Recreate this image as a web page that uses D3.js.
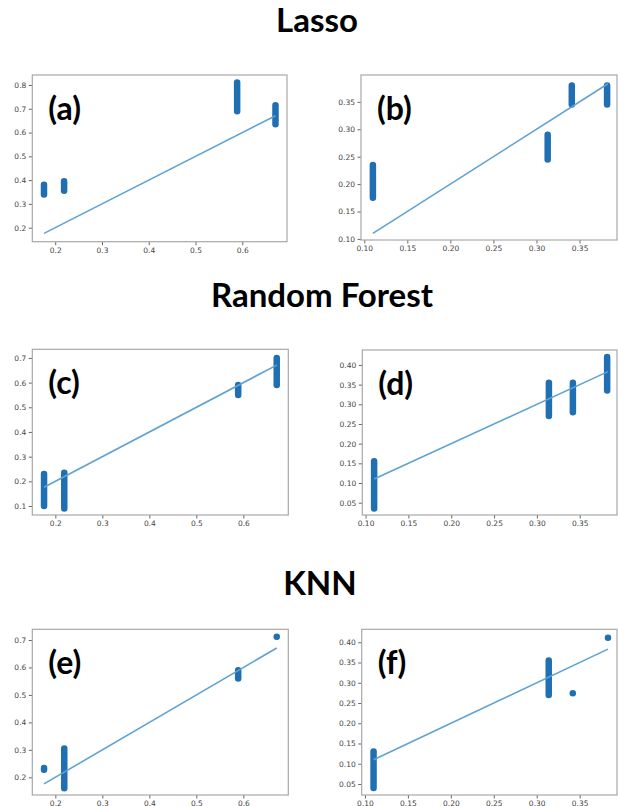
<!DOCTYPE html>
<html>
<head>
<meta charset="utf-8">
<script src="https://cdn.jsdelivr.net/npm/d3@7"></script>
<style>
  body { margin: 0; background: #fff; }
  svg { display: block; }
  .tick text { font-family: "DejaVu Sans", sans-serif; font-size: 7.5px; fill: #444; }
  .tick line { stroke: #666; }
  .title { font-family: Lato, "Open Sans", sans-serif; font-weight: 700; font-size: 33px; fill: #000; }
  .plabel { font-family: Lato, "Open Sans", sans-serif; font-weight: 700; font-size: 32px; fill: #000; }
</style>
</head>
<body>
<div id="chart"></div>
<script>
// section titles
var titles = ["Lasso", "Random Forest", "KNN"];
var panelNames = ["(a)", "(b)", "(c)", "(d)", "(e)", "(f)"];

// each cluster: [x, lowest y, highest y]  (many overlapping dots at the same x)
var lassoA = [[0.176, 0.34, 0.38], [0.219, 0.355, 0.395], [0.589, 0.69, 0.81], [0.671, 0.635, 0.715]];
var lassoB = [[0.110, 0.175, 0.235], [0.313, 0.245, 0.29], [0.341, 0.345, 0.38], [0.382, 0.345, 0.38]];
var forestC = [[0.176, 0.10, 0.23], [0.219, 0.09, 0.235], [0.589, 0.55, 0.59], [0.671, 0.59, 0.70]];
var forestD = [[0.110, 0.035, 0.155], [0.314, 0.27, 0.355], [0.342, 0.28, 0.355], [0.382, 0.335, 0.42]];
var knnE = [[0.176, 0.228, 0.234], [0.219, 0.16, 0.305], [0.589, 0.56, 0.59], [0.671, 0.712, 0.712]];
var knnF = [[0.110, 0.04, 0.13], [0.314, 0.27, 0.355], [0.342, 0.274, 0.274], [0.383, 0.411, 0.411]];

// y = x reference line ends
var lineLeft = [0.176, 0.671];
var lineRight = [0.110, 0.383];

// axis ranges and ticks
var xDomLeft = [0.151, 0.6956];
var xDomRight = [0.0962, 0.3935];
var xTicksLeft = [0.2, 0.3, 0.4, 0.5, 0.6];
var xTicksRight = [0.10, 0.15, 0.20, 0.25, 0.30, 0.35];
var yDoms = [[0.141, 0.842], [0.098, 0.399], [0.0635, 0.735], [0.0187, 0.438], [0.1356, 0.739], [0.0228, 0.432]];
var yTicks = [
  [0.2, 0.3, 0.4, 0.5, 0.6, 0.7, 0.8],
  [0.10, 0.15, 0.20, 0.25, 0.30, 0.35],
  [0.1, 0.2, 0.3, 0.4, 0.5, 0.6, 0.7],
  [0.05, 0.10, 0.15, 0.20, 0.25, 0.30, 0.35, 0.40],
  [0.2, 0.3, 0.4, 0.5, 0.6, 0.7],
  [0.05, 0.10, 0.15, 0.20, 0.25, 0.30, 0.35, 0.40]
];

var allData = [lassoA, lassoB, forestC, forestD, knnE, knnF];

var width = 618, height = 806;
var svg = d3.select("#chart").append("svg")
  .attr("width", width)
  .attr("height", height);

// frames [left, top, right, bottom]
var frames = [
  [32.3, 75, 287, 241.7],
  [361, 75, 617, 240],
  [32.3, 349.3, 288.3, 515],
  [362.3, 350, 617, 515],
  [32.3, 629.3, 288.3, 795],
  [361.7, 629.3, 617, 795]
];
var titleSpots = [[317, 32], [322, 307], [320, 595]];

titles.forEach(function (t, i) {
  svg.append("text").attr("class", "title")
    .attr("x", titleSpots[i][0]).attr("y", titleSpots[i][1])
    .attr("text-anchor", "middle")
    .text(t);
});

allData.forEach(function (clusters, i) {
  var f = frames[i];
  var isLeft = i % 2 == 0;
  var x = d3.scaleLinear().domain(isLeft ? xDomLeft : xDomRight).range([f[0], f[2]]);
  var y = d3.scaleLinear().domain(yDoms[i]).range([f[3], f[1]]);
  var g = svg.append("g");

  var xAxis = d3.axisBottom(x)
    .tickValues(isLeft ? xTicksLeft : xTicksRight)
    .tickFormat(d3.format(isLeft ? ".1f" : ".2f"))
    .tickSize(3.5).tickPadding(2.5);
  var yAxis = d3.axisLeft(y)
    .tickValues(yTicks[i])
    .tickFormat(d3.format(isLeft ? ".1f" : ".2f"))
    .tickSize(3.5).tickPadding(2.5);

  g.append("g").attr("transform", "translate(0," + f[3] + ")").call(xAxis)
    .call(function (s) { s.select(".domain").remove(); });
  g.append("g").attr("transform", "translate(" + f[0] + ",0)").call(yAxis)
    .call(function (s) { s.select(".domain").remove(); });

  // clusters of points
  g.selectAll("line.pts").data(clusters).enter().append("line")
    .attr("class", "pts")
    .attr("x1", d => x(d[0])).attr("x2", d => x(d[0]))
    .attr("y1", d => y(d[1])).attr("y2", d => y(d[2]))
    .attr("stroke", "#1f6fb2")
    .attr("stroke-width", 6.5)
    .attr("stroke-linecap", "round");

  // reference line
  var ends = isLeft ? lineLeft : lineRight;
  g.append("line")
    .attr("x1", x(ends[0])).attr("y1", y(ends[0]))
    .attr("x2", x(ends[1])).attr("y2", y(ends[1]))
    .attr("stroke", "#5fa2d4")
    .attr("stroke-width", 1.6);

  // frame
  g.append("rect")
    .attr("x", f[0]).attr("y", f[1])
    .attr("width", f[2] - f[0]).attr("height", f[3] - f[1])
    .attr("fill", "none").attr("stroke", "#a8a8a8").attr("stroke-width", 1.2);

  g.append("text").attr("class", "plabel")
    .attr("x", f[0] + (isLeft ? 16 : 16)).attr("y", f[1] + 45)
    .text(panelNames[i]);
});
</script>
</body>
</html>
